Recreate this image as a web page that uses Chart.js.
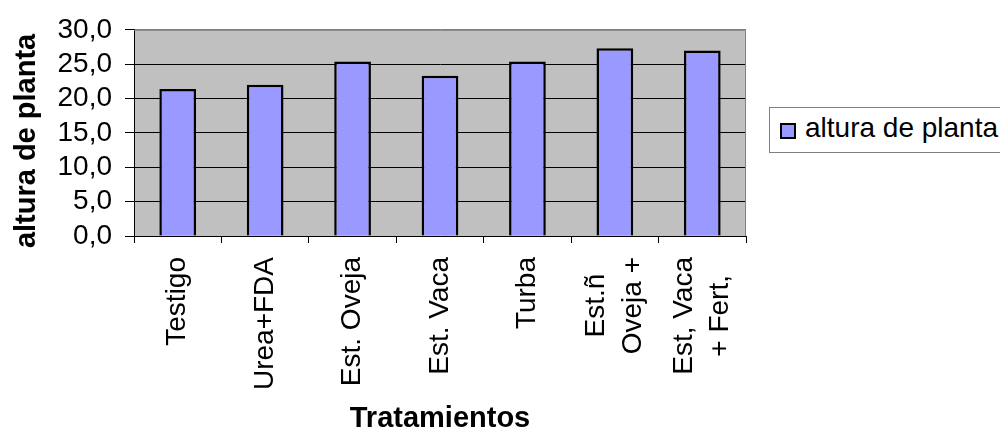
<!DOCTYPE html>
<html>
<head>
<meta charset="utf-8">
<script src="https://cdn.jsdelivr.net/npm/chart.js@4.4.1/dist/chart.umd.min.js"></script>
<style>
html,body{margin:0;padding:0;background:#fff;overflow:hidden;width:1000px;height:432px;}
#wrap{position:relative;width:1000px;height:432px;overflow:hidden;}
#c{position:absolute;left:0;top:0;}
#legend{position:absolute;left:769px;top:107px;width:260px;height:44px;border:1px solid #808080;background:#fff;font-family:"Liberation Sans",Arial,sans-serif;font-size:28px;}
#legend .sw{position:absolute;left:10px;top:15px;width:16px;height:16px;box-sizing:border-box;border:2px solid #000;background:#9999ff;}
#legend .tx{position:absolute;left:35px;top:6px;line-height:28px;white-space:nowrap;color:#000;}
</style>
</head>
<body>
<div id="wrap">
  <canvas id="c" width="1000" height="432"></canvas>
  <div id="legend"><span class="sw"></span><span class="tx" id="legendText"></span></div>
</div>
<script>
// ---- data ----
const categories = ['Testigo', 'Urea+FDA', 'Est. Oveja', 'Est. Vaca', 'Turba', ['Est.ñ', 'Oveja +'], ['Est, Vaca', '+ Fert,']];
const seriesLabel = 'altura de planta';
const values = [21.4, 22.0, 25.4, 23.3, 25.4, 27.3, 27.0];
const yTickValues = [0, 5, 10, 15, 20, 25, 30];
const yTickLabels = ['0,0', '5,0', '10,0', '15,0', '20,0', '25,0', '30,0'];
const xTitle = 'Tratamientos';
const yTitle = 'altura de planta';

const FONT = "'Liberation Sans', Arial, sans-serif";
Chart.defaults.font.family = FONT;
Chart.defaults.color = '#000';

const plotFrame = {
  id: 'plotFrame',
  beforeDraw(chart) {
    const { ctx, chartArea: a } = chart;
    ctx.save();
    ctx.fillStyle = '#c0c0c0';
    ctx.fillRect(a.left, a.top, a.right - a.left, a.bottom - a.top);
    ctx.restore();
  },
  beforeDatasetsDraw(chart) {
    const { ctx, chartArea: a } = chart;
    ctx.save();
    ctx.strokeStyle = '#808080';
    ctx.lineWidth = 1;
    ctx.beginPath();
    ctx.moveTo(a.left, a.top + 0.5);
    ctx.lineTo(a.right - 0.5, a.top + 0.5);
    ctx.lineTo(a.right - 0.5, a.bottom);
    ctx.stroke();
    ctx.restore();
  }
};

// center the lines of multi-line rotated category labels
const centerMultiLine = {
  id: 'centerMultiLine',
  beforeDraw(chart) {
    const sc = chart.scales.x;
    const items = sc.getLabelItems();
    const ctx = chart.ctx;
    items.forEach(it => {
      if (it._centered || !Array.isArray(it.label)) return;
      const n = it.label.length;
      const lh = it.font.lineHeight;
      ctx.save();
      ctx.font = it.font.string;
      const w = Math.max(...it.label.map(s => ctx.measureText(s).width));
      ctx.restore();
      it.options.translation[0] -= (n - 1) * lh / 2;
      it.options.translation[1] += w / 2;
      it.options.textAlign = 'center';
      it._centered = true;
    });
  }
};

document.getElementById('legendText').textContent = seriesLabel;

new Chart(document.getElementById('c'), {
  type: 'bar',
  data: {
    labels: categories,
    datasets: [{
      label: seriesLabel,
      data: values,
      backgroundColor: '#9999ff',
      borderColor: '#000',
      borderWidth: 2.5,
      barPercentage: 0.42,
      categoryPercentage: 1
    }]
  },
  options: {
    responsive: false,
    animation: false,
    devicePixelRatio: 1,
    layout: { padding: { left: 0, top: 23, right: 254, bottom: 0 } },
    plugins: { legend: { display: false }, tooltip: { enabled: false } },
    scales: {
      x: {
        offset: true,
        grid: { display: true, drawOnChartArea: false, offset: true, color: '#000', tickLength: 7, lineWidth: 1 },
        border: { display: true, color: '#000', width: 1 },
        ticks: {
          autoSkip: false, minRotation: 90, maxRotation: 90, padding: 14,
          font: { size: 28, lineHeight: 1.3 }, color: '#000'
        },
        title: { display: true, text: xTitle, font: { size: 29, weight: 'bold', lineHeight: 0.9 }, padding: { top: 0, bottom: 0 }, color: '#000' },
        afterFit(scale) { scale.height = 196; }
      },
      y: {
        min: 0, max: 30,
        afterBuildTicks(scale) { scale.ticks = yTickValues.map(v => ({ value: v })); },
        grid: {
          color: ctx => (ctx.tick && ctx.tick.value === 30 ? '#808080' : '#000'),
          tickColor: '#000', tickLength: 9, lineWidth: 1
        },
        border: { display: true, color: '#000', width: 1 },
        ticks: {
          autoSkip: false,
          padding: 13,
          font: { size: 28 }, color: '#000',
          callback: (v) => { const i = yTickValues.indexOf(v); return i >= 0 ? yTickLabels[i] : ''; }
        },
        title: { display: true, text: yTitle + '  ', font: { size: 29, weight: 'bold', lineHeight: 1.2 }, padding: { top: 10, bottom: 0 }, color: '#000' },
        afterFit(scale) { scale.width = 134; }
      }
    }
  },
  plugins: [plotFrame, centerMultiLine]
});
</script>
</body>
</html>
